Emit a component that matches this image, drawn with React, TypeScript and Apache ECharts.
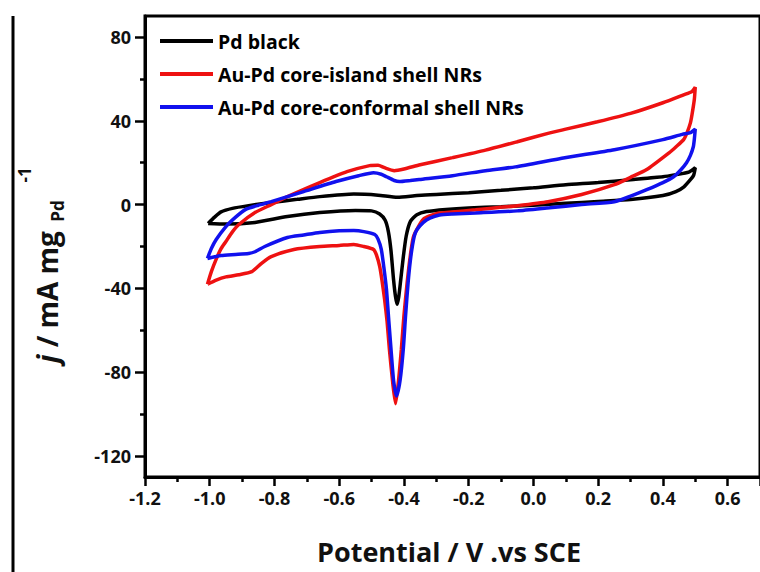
import React, { useEffect, useRef } from "react";
import * as echarts from "echarts";

// Pd black: anodic branch then cathodic branch (potential V, current mA/mg)
const pdBlackE = [-1.005, -0.985, -0.965, -0.93, -0.88, -0.81, -0.73, -0.66, -0.555, -0.48, -0.42, -0.36, -0.3, -0.2, -0.1, 0.0, 0.1, 0.2, 0.3, 0.4, 0.44, 0.48, 0.5,
  0.495, 0.485, 0.465, 0.44, 0.4, 0.3, 0.2, 0.1, 0.0, -0.1, -0.2, -0.27, -0.33, -0.36, -0.38, -0.393, -0.402, -0.41, -0.416, -0.421, -0.426, -0.432, -0.44, -0.448, -0.458, -0.475, -0.5, -0.55, -0.66, -0.76, -0.86, -0.95, -1.005];
const pdBlackJ = [-9, -6, -3.5, -1.8, -0.5, 1, 2.5, 3.8, 5, 4.5, 3.5, 4.3, 4.8, 5.7, 6.8, 8, 9.5, 10.5, 11.9, 13.3, 14.3, 15.5, 17.6,
  14, 11.9, 8.5, 6.2, 4.3, 2.4, 1.5, 0.6, -0.3, -1, -1.6, -2.3, -3.3, -4.8, -8, -15, -25, -36, -44, -47.6, -44, -36, -22, -13, -7.5, -4.5, -3, -2.8, -3.8, -5.7, -8.5, -9.3, -9];

// Au-Pd core-island shell NRs
const islandE = [-1.007, -0.995, -0.98, -0.965, -0.95, -0.93, -0.91, -0.86, -0.81, -0.76, -0.66, -0.576, -0.506, -0.48, -0.46, -0.43, -0.4, -0.35, -0.25, -0.148, -0.05, 0.045, 0.1, 0.198, 0.3, 0.4, 0.464, 0.49, 0.5,
  0.497, 0.49, 0.485, 0.475, 0.464, 0.44, 0.42, 0.35, 0.3, 0.25, 0.149, 0.045, -0.05, -0.108, -0.179, -0.25, -0.3, -0.34, -0.37, -0.38, -0.39, -0.4, -0.408, -0.418, -0.426, -0.434, -0.445, -0.452, -0.46, -0.468, -0.475, -0.485, -0.494, -0.524, -0.555, -0.6, -0.66, -0.74, -0.81, -0.84, -0.87, -0.91, -0.95, -0.98, -1.007];
const islandJ = [-38, -32, -26, -21, -17.6, -13, -9.5, -3.8, 0, 3.8, 10.5, 15.7, 18.6, 18.8, 17.6, 16.2, 17, 19, 22.4, 26, 30, 34, 36, 39.5, 43.5, 48.6, 52.4, 54, 56,
  50, 43, 39, 34.5, 31, 27.5, 24.8, 16.7, 13, 9.5, 4.8, 1.4, -0.5, -1.4, -2.5, -3.5, -4.3, -7, -15, -24, -37, -53, -69, -86, -95, -86, -69, -56, -45, -36, -29.5, -24, -21.4, -20, -19, -19.5, -20, -21.4, -24.8, -28, -32, -33.5, -34.5, -36, -38];

// Au-Pd core-conformal shell NRs
const conformalE = [-1.007, -0.995, -0.98, -0.95, -0.92, -0.89, -0.85, -0.81, -0.71, -0.61, -0.54, -0.494, -0.47, -0.454, -0.43, -0.414, -0.38, -0.353, -0.25, -0.148, -0.056, 0.097, 0.25, 0.4, 0.46, 0.485, 0.5,
  0.497, 0.494, 0.485, 0.473, 0.455, 0.433, 0.4, 0.35, 0.3, 0.25, 0.149, 0.05, -0.05, -0.179, -0.25, -0.29, -0.32, -0.34, -0.36, -0.368, -0.378, -0.387, -0.395, -0.402, -0.412, -0.423, -0.432, -0.44, -0.447, -0.454, -0.462, -0.47, -0.48, -0.49, -0.524, -0.555, -0.6, -0.66, -0.71, -0.76, -0.83, -0.86, -0.88, -0.92, -0.965, -1.007];
const conformalJ = [-25.7, -21, -16.7, -10.5, -6, -2.4, -0.3, 1.4, 6.2, 11, 13.8, 15.2, 14.5, 13.3, 11.5, 11, 11.5, 12, 13.8, 16.2, 18, 22.4, 26.2, 31, 33.5, 34.3, 36,
  31, 27.6, 23.5, 20, 16.5, 13.3, 10.5, 7.1, 4, 1.4, 0, -1.5, -3, -4, -4.5, -5, -6.5, -8.5, -12, -15, -24, -37, -53, -69, -84, -91.4, -84, -69, -55, -40.5, -30, -21.4, -16.5, -14.3, -12.9, -12.4, -12.5, -13.3, -14.5, -15.7, -20, -22.5, -23.3, -23.8, -24.3, -25.7];

const seriesNames = ["Pd black", "Au-Pd core-island shell NRs", "Au-Pd core-conformal shell NRs"];
const seriesColors = ["#000000", "#ee1111", "#1111ee"];
const yMajorTicks = [-120, -80, -40, 0, 40, 80];
const yMinorTicks = [-100, -60, -20, 20, 60];

const zip = (xs: number[], ys: number[]) => xs.map((x, i) => [x, ys[i]]);

const FONT = "Open Sans";

export default function App() {
  const ref = useRef<HTMLDivElement>(null);
  useEffect(() => {
    if (!ref.current) return;
    const chart = echarts.init(ref.current, null, { renderer: "svg" });
    const curves = [zip(pdBlackE, pdBlackJ), zip(islandE, islandJ), zip(conformalE, conformalJ)];
    chart.setOption({
      animation: false,
      backgroundColor: "#ffffff",
      textStyle: { fontFamily: FONT },
      grid: { left: 145, top: 16, right: -8, bottom: 95, show: true, borderColor: "#000", borderWidth: 3 },
      legend: {
        orient: "vertical",
        left: 155,
        top: 26,
        itemWidth: 53,
        itemHeight: 4,
        itemGap: 13,
        icon: "rect",
        data: seriesNames,
        textStyle: { fontFamily: FONT, fontWeight: "bold", fontSize: 19.5, color: "#000", lineHeight: 19 },
      },
      xAxis: {
        type: "value",
        min: -1.2,
        max: 0.7,
        interval: 0.2,
        axisLine: { show: true, onZero: false, lineStyle: { color: "#000", width: 3 } },
        axisTick: { show: true, length: 9, lineStyle: { color: "#000", width: 2.5 } },
        minorTick: { show: true, splitNumber: 2, length: 5, lineStyle: { color: "#000", width: 2.5 } },
        splitLine: { show: false },
        axisLabel: {
          margin: 12,
          showMaxLabel: false,
          fontFamily: FONT,
          fontWeight: "bold",
          fontSize: 18,
          color: "#111",
          formatter: (v: number) => (Math.abs(v - 0.7) < 1e-6 ? "" : v.toFixed(1)),
        },
      },
      yAxis: [
        {
          type: "value",
          min: -130,
          max: 90,
          axisLine: { show: true, onZero: false, lineStyle: { color: "#000", width: 3 } },
          axisTick: { show: true, customValues: yMajorTicks, length: 10, lineStyle: { color: "#000", width: 2.5 } },
          splitLine: { show: false },
          axisLabel: {
            customValues: yMajorTicks,
            margin: 14,
            fontFamily: FONT,
            fontWeight: "bold",
            fontSize: 18,
            color: "#111",
          },
        },
        {
          type: "value",
          min: -130,
          max: 90,
          position: "left",
          axisLine: { show: false, onZero: false },
          axisTick: { show: true, customValues: yMinorTicks, length: 5, lineStyle: { color: "#000", width: 2.5 } },
          splitLine: { show: false },
          axisLabel: { show: false },
        },
      ],
      series: curves.map((d, i) => ({
        name: seriesNames[i],
        type: "line",
        data: d,
        yAxisIndex: 0,
        showSymbol: false,
        smooth: 0.2,
        color: seriesColors[i],
        lineStyle: { color: seriesColors[i], width: 3.5 },
      })),
      graphic: [
        { type: "line", shape: { x1: 13, y1: 16, x2: 13, y2: 572 }, style: { stroke: "#000", lineWidth: 3 } },
        {
          type: "text",
          x: 47,
          y: 297,
          rotation: Math.PI / 2,
          style: {
            text: "{i|j} / mA mg",
            font: `bold 28px "${FONT}"`,
            fill: "#111",
            textAlign: "center",
            textVerticalAlign: "middle",
            rich: { i: { fontStyle: "italic", fontWeight: "bold", fontSize: 28, fontFamily: FONT, fill: "#111" } },
          },
        },
        {
          type: "text",
          x: 57,
          y: 211,
          rotation: Math.PI / 2,
          style: { text: "Pd", font: `bold 17px "${FONT}"`, fill: "#111", textAlign: "center", textVerticalAlign: "middle" },
        },
        {
          type: "text",
          x: 24,
          y: 175,
          rotation: Math.PI / 2,
          style: { text: "-1", font: `bold 17px "${FONT}"`, fill: "#111", textAlign: "center", textVerticalAlign: "middle" },
        },
        {
          type: "text",
          x: 449,
          y: 551,
          style: { text: "Potential / V .vs SCE", font: `bold 27px "${FONT}"`, fill: "#111", textAlign: "center", textVerticalAlign: "middle" },
        },
      ],
    });
    return () => chart.dispose();
  }, []);
  return <div ref={ref} style={{ position: "absolute", left: 0, top: 0, width: 760, height: 572 }} />;
}
